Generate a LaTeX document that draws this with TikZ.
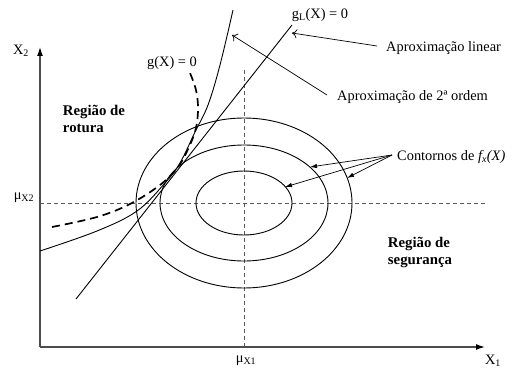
\documentclass[tikz,border=0pt]{standalone}
\usepackage{fontspec}
\setmainfont{Liberation Serif}
\usetikzlibrary{arrows.meta}
\begin{document}
\begin{tikzpicture}[x=1pt,y=-1pt,
  txt/.style={inner sep=0pt, font=\fontsize{14.4}{17}\selectfont},
  boldtxt/.style={inner sep=0pt, align=left, font=\fontsize{14.8}{17}\selectfont\bfseries},
  axis/.style={draw=black!70, line width=1.3pt, -{Latex[length=9pt,width=6pt,black]}},
  guide/.style={draw=black!65, dash pattern=on 4pt off 3pt, line width=0.9pt},
  curve/.style={draw=black, line width=0.9pt},
  gdash/.style={draw=black, line width=1.7pt, dash pattern=on 8pt off 5pt},
  callout/.style={draw=black, line width=0.7pt, -{To[length=5pt,width=9pt]}},
  contarrow/.style={draw=black, line width=0.7pt, -{Latex[length=7pt,width=4.5pt]}}
]
\useasboundingbox (0,0) rectangle (519,369);

% axes
\coordinate (O) at (40,347);
\coordinate (ytip) at (40,47);
\coordinate (xtip) at (485,347);
\draw[axis] (O) -- (ytip);
\draw[axis] (O) -- (xtip);

% mean guide lines
\coordinate (vtop) at (244,70);
\coordinate (vbot) at (244,347);
\coordinate (hleft) at (40,203);
\coordinate (hright) at (485,203);
\draw[guide] (vtop) -- (vbot);
\draw[guide] (hleft) -- (hright);

% contours
\coordinate (C) at (244,203);
\draw[curve] (C) ellipse [x radius=108pt, y radius=85pt];
\draw[curve] (C) ellipse [x radius=84pt, y radius=58pt];
\draw[curve] (C) ellipse [x radius=48pt, y radius=32pt];

% second-order approximation
\draw[curve] plot[smooth, tension=0.6] coordinates {(40,251) (97,231) (137,211) (165,183) (180,163) (195,132) (208,105) (220,65) (233,10)};

% linear approximation
\coordinate (linA) at (76,299);
\coordinate (linB) at (292,25);
\draw[curve] (linA) -- (linB);

% limit state g(X)=0
\draw[gdash] plot[smooth, tension=0.6] coordinates {(52,227) (97,217) (130,204) (160,185) (178,167) (189,147) (196,128) (198,108) (196,90) (190,73)};

% labels
\node[txt] (x2) at (21,51) {X\textsubscript{2}};
\node[txt] (x1) at (493,361) {X\textsubscript{1}};
\node[txt] (mux1) at (246,361) {μ\textsubscript{X1}};
\node[txt] (mux2) at (24,198) {μ\textsubscript{X2}};
\node[txt] (gx) at (172,63) {g(X) = 0};
\node[txt] (gl) at (320,15) {g\textsubscript{L}(X) = 0};
\node[txt, anchor=west] (lin) at (386,48) {Aproximação linear};
\node[txt, anchor=west] (sec) at (337,97) {Aproximação de 2ª ordem};
\node[txt, anchor=west] (cont) at (397,157) {Contornos de \textit{f\textsubscript{x}(X)}};
\node[boldtxt] (rot) at (94,119) {Região de\\rotura};
\node[boldtxt] (seg) at (420,252) {Região de\\segurança};

% callouts
\coordinate (linTip) at (292,33);
\coordinate (secTip) at (232,35);
\draw[callout] ([xshift=-9pt,yshift=2pt]lin.west) -- (linTip);
\draw[callout] ([xshift=-10pt,yshift=2pt]sec.west) -- (secTip);

\coordinate (tipMid) at (310,167);
\coordinate (tipOut) at (347,178);
\coordinate (tipIn) at (285,187);
\coordinate (contStart) at ([xshift=-5pt,yshift=2pt]cont.west);
\draw[contarrow] (contStart) -- (tipMid);
\draw[contarrow] (contStart) -- (tipOut);
\draw[contarrow] (contStart) -- (tipIn);
\end{tikzpicture}
\end{document}
